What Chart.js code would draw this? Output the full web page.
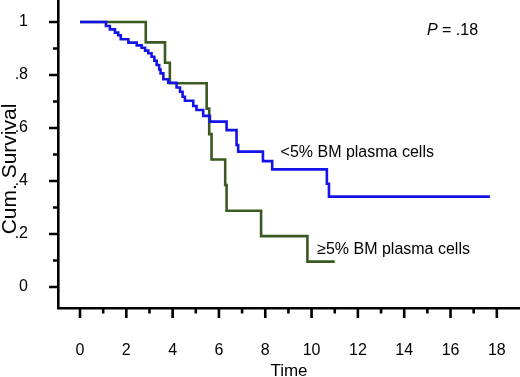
<!DOCTYPE html>
<html>
<head>
<meta charset="utf-8">
<script src="https://cdn.jsdelivr.net/npm/chart.js@4.4.0/dist/chart.umd.min.js"></script>
<style>
  html, body { margin: 0; padding: 0; background: #fff; }
  #grafico { display: block; }
</style>
</head>
<body>
<canvas id="grafico" width="520" height="377"></canvas>
<script>
const tiemposBajo = [0, 1.12, 1.29, 1.51, 1.65, 1.76, 2.09, 2.45, 2.66, 2.81, 2.95, 3.09, 3.21, 3.31, 3.42, 3.48,
  3.60, 3.81, 4.17, 4.32, 4.43, 4.53, 4.89, 5.03, 5.32, 5.61, 6.33, 6.76, 6.83, 7.90, 8.30, 10.66, 10.75, 17.7];
const survBajo = [1, 0.985, 0.972, 0.960, 0.950, 0.935, 0.922, 0.912, 0.903, 0.892, 0.882, 0.869, 0.854, 0.838, 0.821, 0.806,
  0.784, 0.771, 0.753, 0.737, 0.718, 0.703, 0.683, 0.668, 0.646, 0.624, 0.592, 0.536, 0.511, 0.475, 0.444, 0.39, 0.341, 0.341];

const tiemposAlto = [0, 2.84, 3.67, 3.88, 5.47, 5.58, 5.68, 6.27, 6.33, 7.82, 9.82, 11.0];
const survAlto = [1, 0.923, 0.846, 0.769, 0.673, 0.577, 0.481, 0.385, 0.288, 0.192, 0.096, 0.096];

const grupos = ['<5% BM plasma cells', '\u22655% BM plasma cells'];

const xTicks = [0, 2, 4, 6, 8, 10, 12, 14, 16, 18];
const xMenores = [1, 3, 5, 7, 9, 11, 13, 15, 17];
const yTicks = [0, 0.2, 0.4, 0.6, 0.8, 1];
const yEtiquetas = ['0', '.2', '.4', '.6', '.8', '1'];
const yMenores = [0.1, 0.3, 0.5, 0.7, 0.9];

const fuente = '"Liberation Sans", Arial, Helvetica, sans-serif';

const puntos = (ts, ss) => ts.map((t, i) => ({ x: t, y: ss[i] }));

// Fija el tamaño del eje y anula el relleno automático de las etiquetas
const ajustar = (s, lado, valor) => {
  s[lado] = valor;
  s.paddingTop = 0;
  s.paddingBottom = 0;
  s.paddingLeft = 0;
  s.paddingRight = 0;
};

// Marcas de eje, títulos y anotaciones
const decoracion = {
  id: 'decoracion',
  afterDraw(chart) {
    const { ctx, scales: { x, y } } = chart;
    ctx.save();
    ctx.strokeStyle = '#000';
    ctx.lineWidth = 2.6;
    ctx.beginPath();
    xTicks.forEach(v => { const p = x.getPixelForValue(v); ctx.moveTo(p, x.top); ctx.lineTo(p, x.top + 10); });
    xMenores.forEach(v => { const p = x.getPixelForValue(v); ctx.moveTo(p, x.top); ctx.lineTo(p, x.top + 5.5); });
    yTicks.forEach(v => { const p = y.getPixelForValue(v); ctx.moveTo(y.right - 9, p); ctx.lineTo(y.right, p); });
    yMenores.forEach(v => { const p = y.getPixelForValue(v); ctx.moveTo(y.right - 5, p); ctx.lineTo(y.right, p); });
    ctx.stroke();

    ctx.fillStyle = '#000';
    ctx.textBaseline = 'alphabetic';

    // Título eje X
    ctx.font = '17px ' + fuente;
    ctx.textAlign = 'center';
    ctx.fillText('Time', (x.left + x.right) / 2, 375.5);

    // Título eje Y
    ctx.save();
    ctx.translate(15.5, 169);
    ctx.rotate(-Math.PI / 2);
    ctx.font = '21px ' + fuente;
    ctx.fillText('Cum. Survival', 0, 0);
    ctx.restore();

    // Etiquetas de grupos
    ctx.textAlign = 'left';
    ctx.font = '16px ' + fuente;
    ctx.fillText(grupos[0], x.getPixelForValue(8.66), y.getPixelForValue(0.492));
    ctx.fillText(grupos[1], x.getPixelForValue(10.24), y.getPixelForValue(0.125));

    // Valor P
    const px = x.getPixelForValue(14.98), py = y.getPixelForValue(0.952);
    ctx.font = 'italic 16px ' + fuente;
    ctx.fillText('P', px, py);
    const w = ctx.measureText('P').width;
    ctx.font = '16px ' + fuente;
    ctx.fillText(' = .18', px + w, py);
    ctx.restore();
  }
};

new Chart(document.getElementById('grafico'), {
  type: 'line',
  data: {
    datasets: [{
      label: grupos[0],
      data: puntos(tiemposBajo, survBajo),
      borderColor: '#1414e8',
      borderWidth: 2.6,
      stepped: 'before',
      pointRadius: 0,
      fill: false
    }, {
      label: grupos[1],
      data: puntos(tiemposAlto, survAlto),
      borderColor: '#3a5a22',
      borderWidth: 2.6,
      stepped: 'before',
      pointRadius: 0,
      fill: false
    }]
  },
  options: {
    responsive: false,
    animation: false,
    devicePixelRatio: 1,
    layout: { padding: 0 },
    plugins: {
      legend: { display: false },
      tooltip: { enabled: false },
      title: { display: false }
    },
    scales: {
      x: {
        type: 'linear',
        min: -0.95,
        max: 19.0,
        grid: { display: false },
        border: { display: true, color: '#000', width: 2.6 },
        afterBuildTicks: s => { s.ticks = xTicks.map(v => ({ value: v })); },
        afterFit: s => ajustar(s, 'height', 69),
        ticks: {
          color: '#000',
          padding: 25,
          maxRotation: 0,
          font: { size: 16, family: fuente },
          callback: v => String(v)
        }
      },
      y: {
        type: 'linear',
        min: -0.079,
        max: 1.083,
        grid: { display: false },
        border: { display: true, color: '#000', width: 2.6 },
        afterBuildTicks: s => { s.ticks = yTicks.map(v => ({ value: v })); },
        afterFit: s => ajustar(s, 'width', 58),
        ticks: {
          color: '#000',
          padding: 22,
          font: { size: 16, family: fuente },
          callback: function(v) { return yEtiquetas[yTicks.indexOf(v)]; }
        }
      }
    }
  },
  plugins: [decoracion]
});
</script>
</body>
</html>
